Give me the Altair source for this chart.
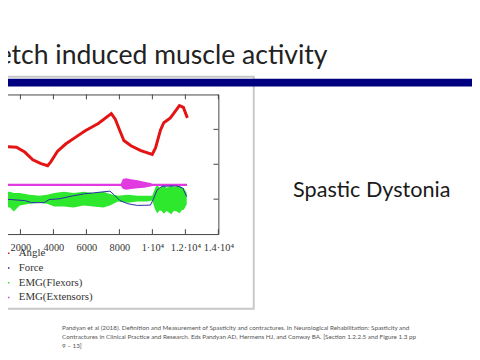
import altair as alt
import pandas as pd

# ---------------- data ----------------
angle_t = [770, 1760, 2260, 2750, 3250, 3650, 3840, 4240, 4740, 5330, 5930, 6720, 7510,
           7750, 8010, 8270, 8700, 9300, 9990, 10190, 10490, 10690, 11090, 11640, 11880, 12120]
angle_v = [2.51, 2.49, 2.35, 2.13, 2.02, 1.96, 2.07, 2.37, 2.58, 2.77, 2.96, 3.17, 3.45,
           3.29, 2.98, 2.68, 2.53, 2.39, 2.28, 2.47, 2.98, 3.19, 3.33, 3.68, 3.63, 3.33]

force_t = [770, 2260, 2670, 3450, 3740, 4340, 5230, 5830, 6420, 7430, 7670, 8030, 8510,
           9100, 9880, 10050, 10290, 10590, 11480, 11840, 12080]
force_v = [1.01, 0.96, 0.90, 0.90, 0.99, 1.01, 1.10, 1.15, 1.18, 1.23, 1.13, 0.96, 0.87,
           0.82, 0.83, 0.99, 1.27, 1.37, 1.38, 1.32, 1.07]

flex_t = [770, 1360, 1600, 1960, 2550, 3150, 3620, 4040, 4640, 5230, 5830, 6420, 7020,
          7430, 7910, 8510, 9100, 9700, 9990, 10170, 10300, 10450, 10590, 10700, 10850,
          11000, 11150, 11300, 11480, 11650, 11780, 11900, 12080]
flex_lo = [0.79, 0.76, 0.65, 0.82, 0.87, 0.90, 0.87, 0.79, 0.79, 0.76, 0.82, 0.79, 0.76,
           0.82, 0.93, 0.90, 0.93, 0.93, 0.96, 0.70, 0.60, 0.68, 0.65, 0.58, 0.66,
           0.62, 0.57, 0.67, 0.65, 0.60, 0.68, 0.70, 0.85]
flex_hi = [1.24, 1.21, 1.18, 1.18, 1.13, 1.10, 1.13, 1.18, 1.21, 1.18, 1.21, 1.18, 1.21,
           1.15, 1.10, 1.13, 1.10, 1.10, 1.10, 1.32, 1.42, 1.30, 1.38, 1.40, 1.33,
           1.35, 1.41, 1.34, 1.38, 1.40, 1.33, 1.32, 1.18]

ext_t = [770, 8090, 8210, 8400, 8700, 9100, 9500, 9880, 9990, 12100]
ext_lo = [1.38, 1.38, 1.30, 1.27, 1.29, 1.31, 1.33, 1.36, 1.38, 1.38]
ext_hi = [1.44, 1.44, 1.58, 1.60, 1.57, 1.54, 1.50, 1.46, 1.44, 1.44]

series_names = ["Angle", "Force", "EMG(Flexors)", "EMG(Extensors)"]
series_colors = ["#e41414", "#2a2aa8", "#2ee82e", "#e03ae0"]

x_ticks = [2000, 4000, 6000, 8000, 10000, 12000, 14000]
y_ticks = [1, 2, 3]

slide_title = "Stretch induced muscle activity"
side_label = "Spastic Dystonia"
citation_lines = [
    "Pandyan et al (2018). Definition and Measurement of Spasticity and contractures. In Neurological Rehabilitation: Spasticity and",
    "Contractures in Clinical Practice and Research. Eds Pandyan AD, Hermens HJ, and Conway BA. [Section 1.2.2.5 and Figure 1.3 pp",
    "9 \u2013 13]",
]

# ---------------- tables ----------------
angle_df = pd.DataFrame({"t": angle_t, "v": angle_v, "series": "Angle"})
force_df = pd.DataFrame({"t": force_t, "v": force_v, "series": "Force"})
flex_df = pd.DataFrame({"t": flex_t, "lo": flex_lo, "hi": flex_hi})
ext_df = pd.DataFrame({"t": ext_t, "lo": ext_lo, "hi": ext_hi})
xt_df = pd.DataFrame({"t": x_ticks})
yt_df = pd.DataFrame({"v": y_ticks})
one = pd.DataFrame({"title": [slide_title], "side": [side_label],
                    "cite": ["\n".join(citation_lines)]})

W, H = 222, 142
xscale = alt.Scale(domain=[770, 14000], nice=False, zero=False)
yscale = alt.Scale(domain=[0, 4], nice=False, zero=False)
label_expr = ("datum.value < 10000 ? format(datum.value, 'd') : "
              "(datum.value == 10000 ? '1\u00b710\u2074' : "
              "format(datum.value / 10000, '.1f') + '\u00b710\u2074')")
xaxis = alt.Axis(values=x_ticks, ticks=False, domain=False, grid=False, title=None,
                 labelExpr=label_expr, labelFont="Liberation Serif", labelFontSize=10.5,
                 labelColor="#333", labelPadding=9, labelFlush=False, labelOverlap=False)


def X(field="t:Q"):
    return alt.X(field, scale=xscale, axis=xaxis)


def Y(field="v:Q"):
    return alt.Y(field, scale=yscale, axis=None)


color_scale = alt.Scale(domain=series_names, range=series_colors)
legend = alt.Legend(orient="none", legendX=0, legendY=156, title=None,
                    symbolType="stroke", symbolSize=64, symbolStrokeWidth=1.5,
                    labelFont="Liberation Serif", labelFontSize=11, labelColor="#333",
                    labelOffset=8, rowPadding=3, padding=0)

# decorations of the slide
frame = alt.Chart(one).mark_rect(fillOpacity=0, stroke="#c8c8c8", strokeWidth=2).encode(
    x=alt.value(-4), x2=alt.value(258), y=alt.value(-18), y2=alt.value(218))
bar = alt.Chart(one).mark_rect(color="#000080").encode(
    x=alt.value(0), x2=alt.value(480), y=alt.value(-16), y2=alt.value(-8))
title_txt = alt.Chart(one).mark_text(align="right", baseline="alphabetic", font="Lato",
                                     fontSize=27, color="#222").encode(
    x=alt.value(333), y=alt.value(-31), text="title:N")
side_txt = alt.Chart(one).mark_text(align="left", baseline="alphabetic", font="Lato",
                                    fontSize=22, color="#1a1a1a").encode(
    x=alt.value(298), y=alt.value(104), text="side:N")
cite_txt = alt.Chart(one).mark_text(align="left", baseline="alphabetic", font="Lato",
                                    fontSize=6.4, lineBreak="\n", lineHeight=8.8,
                                    color="#555").encode(
    x=alt.value(63), y=alt.value(240), text="cite:N")

# plot
flex = alt.Chart(flex_df).mark_area(color=series_colors[2], clip=True).encode(
    x=X(), y=Y("lo:Q"), y2="hi:Q")
ext = alt.Chart(ext_df).mark_area(color=series_colors[3], clip=True).encode(
    x=X(), y=Y("lo:Q"), y2="hi:Q")
force = alt.Chart(force_df).mark_line(strokeWidth=1, clip=True).encode(
    x=X(), y=Y(), color=alt.Color("series:N", scale=color_scale, legend=legend))
angle = alt.Chart(angle_df).mark_line(strokeWidth=3, clip=True).encode(
    x=X(), y=Y(), color=alt.Color("series:N", scale=color_scale, legend=legend))

top_ticks = alt.Chart(xt_df).mark_rule(color="#444").encode(
    x=X(), y=alt.value(0), y2=alt.value(5))
bot_ticks = alt.Chart(xt_df).mark_rule(color="#444").encode(
    x=X(), y=alt.value(H - 5), y2=alt.value(H))
right_ticks = alt.Chart(yt_df).mark_rule(color="#444").encode(
    y=Y(), x=alt.value(W - 5), x2=alt.value(W))

chart = alt.layer(
    frame, bar, title_txt, side_txt, cite_txt,
    flex, ext, force, angle, top_ticks, bot_ticks, right_ticks
).properties(
    width=W, height=H,
    padding={"left": -8, "top": 85, "right": 258, "bottom": 117},
    autosize=alt.AutoSizeParams(type="none"),
    background="white",
).configure_view(stroke="#444", strokeWidth=1)

chart.save("out.html", embed_options={"renderer": "svg", "actions": False})
